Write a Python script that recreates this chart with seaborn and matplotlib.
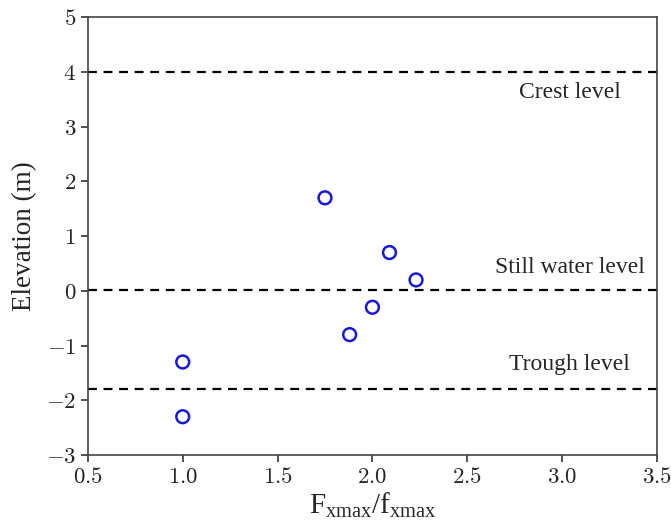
import matplotlib
matplotlib.use("Agg")
import matplotlib.pyplot as plt
import seaborn as sns
import pandas as pd
from matplotlib.ticker import FuncFormatter

ratio = [1.0, 1.0, 1.75, 1.88, 2.0, 2.09, 2.23]
elevation = [-1.3, -2.3, 1.7, -0.8, -0.3, 0.7, 0.2]
level_values = [4.0, 0.02, -1.8]
level_names = ["Crest level", "Still water level", "Trough level"]
label_y = [3.63, 0.42, -1.35]

sns.set_style("ticks")
plt.rcParams["font.family"] = ["Liberation Serif", "DejaVu Serif"]
plt.rcParams["mathtext.fontset"] = "cm"

df = pd.DataFrame({"ratio": ratio, "elevation": elevation})

fig = plt.figure(figsize=(6.71, 5.23), dpi=100)
ax = fig.add_axes([0.131, 0.130, 0.848, 0.837])

for v in level_values:
    ax.axhline(v, color="black", linestyle=(0, (4, 3)), linewidth=1.6, zorder=1)

sns.scatterplot(data=df, x="ratio", y="elevation", ax=ax, marker="o",
                s=85, facecolors="none", edgecolor="#1a1ad6", linewidth=1.8, zorder=3)

for name, yy in zip(level_names, label_y):
    ax.text(3.04, yy, name, ha="center", va="center", fontsize=17)

ax.set_xlim(0.5, 3.5)
ax.set_ylim(-3, 5)
ax.set_xticks([0.5, 1.0, 1.5, 2.0, 2.5, 3.0, 3.5])
ax.set_yticks(range(-3, 6))
ax.xaxis.set_major_formatter(FuncFormatter(lambda v, p: r"$%.1f$" % v))
ax.yaxis.set_major_formatter(FuncFormatter(lambda v, p: r"$%d$" % round(v)))
ax.tick_params(labelsize=16.5, length=5, width=1.2, color="#333333")
for s in ax.spines.values():
    s.set_color("#444444")
    s.set_linewidth(1.2)

ax.set_xlabel(r"$\mathregular{F_{xmax}/f_{xmax}}$", fontsize=21, labelpad=2)
ax.set_ylabel("Elevation (m)", fontsize=19.5, labelpad=6)

fig.savefig("out.png", dpi=100)
